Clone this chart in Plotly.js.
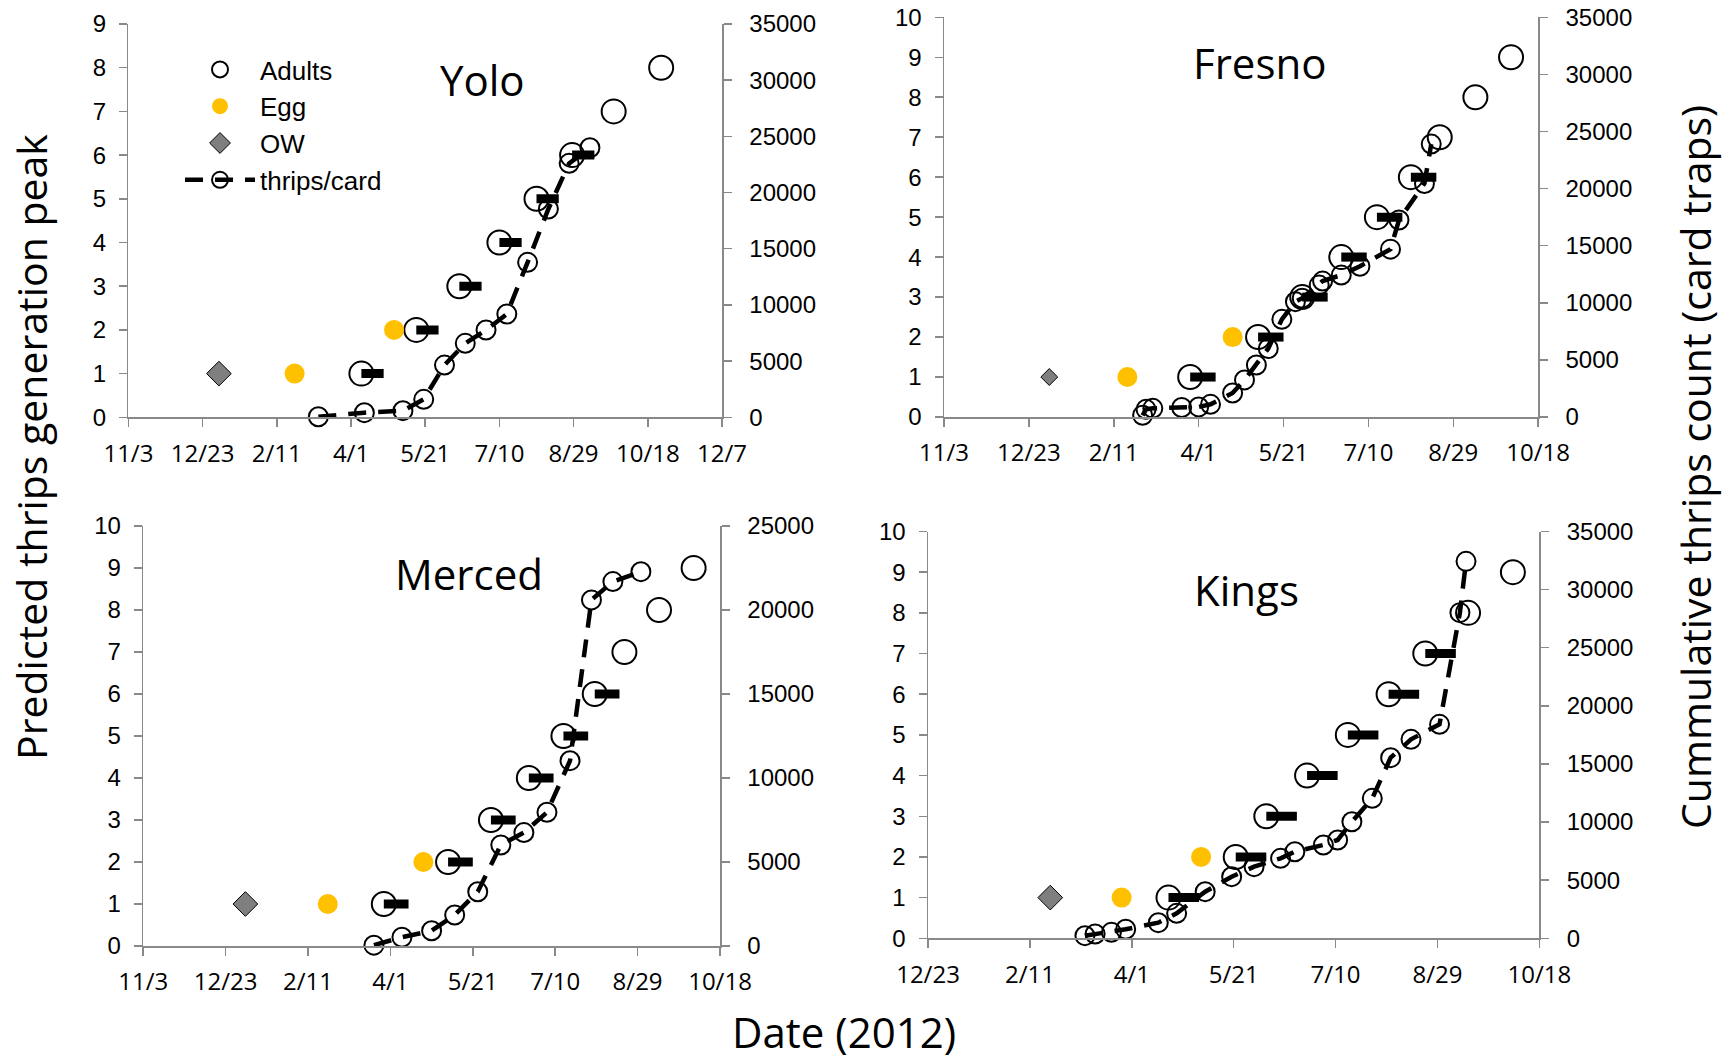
<!DOCTYPE html>
<html><head><meta charset="utf-8">
<script src="https://cdn.plot.ly/plotly-3.0.1.min.js"></script>
<style>html,body{margin:0;padding:0;background:#fff;} #chart{width:1729px;height:1061px;}</style>
</head><body><div id="chart"></div>
<script>
// ---------------- DATA ----------------
const xTickDates = ['2011-11-03','2011-12-23','2012-02-11','2012-04-01','2012-05-21','2012-07-10','2012-08-29','2012-10-18','2012-12-07'];
const xTickLabels = ['11/3','12/23','2/11','4/1','5/21','7/10','8/29','10/18','12/7'];

// Yolo
const yoloAdultDates = ['2012-04-08','2012-05-15','2012-06-13','2012-07-10','2012-08-04','2012-08-28','2012-09-25','2012-10-27'];
const yoloAdultGen = [1,2,3,4,5,6,7,8];
const yoloEggDates = ['2012-02-23','2012-04-30'];
const yoloEggGen = [1,2];
const yoloOWDates = ['2012-01-03'];
const yoloOWGen = [1];
const yoloThripsDates = ['2012-03-10','2012-04-10','2012-05-06','2012-05-20','2012-06-03','2012-06-17','2012-07-01','2012-07-15','2012-07-29','2012-08-12','2012-08-26','2012-09-09'];
const yoloThripsCount = [50,410,590,1600,4650,6580,7770,9190,13790,18540,22600,23990];
const yoloBarCount = 6;

// Fresno
const fresnoAdultDates = ['2012-03-27','2012-05-06','2012-06-01','2012-06-24','2012-07-15','2012-08-04','2012-08-21','2012-09-11','2012-10-02'];
const fresnoAdultGen = [1,2,3,4,5,6,7,8,9];
const fresnoEggDates = ['2012-02-19','2012-04-21'];
const fresnoEggGen = [1,2];
const fresnoOWDates = ['2012-01-04'];
const fresnoOWGen = [1];
const fresnoThripsDates = ['2012-02-28','2012-03-01','2012-03-05','2012-03-22','2012-04-01','2012-04-08','2012-04-21','2012-04-28','2012-05-05','2012-05-12','2012-05-20','2012-05-28','2012-06-01','2012-06-11','2012-06-13','2012-06-24','2012-07-05','2012-07-23','2012-07-28','2012-08-12','2012-08-16'];
const fresnoThripsCount = [150,670,760,830,880,1110,2100,3250,4550,6000,8550,10100,10400,11550,11900,12430,13200,14700,17250,20450,23900];
const fresnoBarCount = 6;

// Merced
const mercedAdultDates = ['2012-03-28','2012-05-06','2012-06-01','2012-06-24','2012-07-15','2012-08-03','2012-08-21','2012-09-11','2012-10-02'];
const mercedAdultGen = [1,2,3,4,5,6,7,8,9];
const mercedEggDates = ['2012-02-23','2012-04-21'];
const mercedEggGen = [1,2];
const mercedOWDates = ['2012-01-04'];
const mercedOWGen = [1];
const mercedThripsDates = ['2012-03-22','2012-04-08','2012-04-26','2012-05-10','2012-05-24','2012-06-07','2012-06-21','2012-07-05','2012-07-19','2012-08-01','2012-08-14','2012-08-31'];
const mercedThripsCount = [50,520,910,1845,3230,6010,6750,7960,11030,20600,21690,22280];
const mercedBarCount = 6;

// Kings
const kingsAdultDates = ['2012-04-19','2012-05-22','2012-06-06','2012-06-26','2012-07-16','2012-08-05','2012-08-23','2012-09-13','2012-10-05'];
const kingsAdultGen = [1,2,3,4,5,6,7,8,9];
const kingsEggDates = ['2012-03-27','2012-05-05'];
const kingsEggGen = [1,2];
const kingsOWDates = ['2012-02-21'];
const kingsOWGen = [1];
const kingsThripsDates = ['2012-03-09','2012-03-14','2012-03-22','2012-03-29','2012-04-14','2012-04-23','2012-05-07','2012-05-20','2012-05-31','2012-06-13','2012-06-20','2012-07-04','2012-07-11','2012-07-18','2012-07-28','2012-08-06','2012-08-16','2012-08-30','2012-09-09','2012-09-12'];
const kingsThripsCount = [225,370,515,775,1345,2150,4010,5300,6160,6880,7450,8030,8460,10030,12040,15540,17120,18410,28020,32430];
const kingsBarCount = 7;

// ---------------- LAYOUT / STYLE ----------------
const W = 1729, H = 1061;
const BAR_DAYS = 15;
const AXIS_GRAY = '#898989';
const px = v => v / W;
const py = v => 1 - v / H;
function addDays(s, n) {
  const d = new Date(s + 'T00:00:00Z');
  return new Date(d.getTime() + n * 86400000).toISOString().slice(0, 10);
}

const panels = [
  {name:'Yolo', ad:yoloAdultDates, ag:yoloAdultGen, ed:yoloEggDates, eg:yoloEggGen, od:yoloOWDates, og:yoloOWGen, td:yoloThripsDates, tc:yoloThripsCount, bars:yoloBarCount,
   xPix:[128.4,722], yPix:[417.3,24], xr:['2011-11-03','2012-12-07'], yMax:9, y2Max:35000, owSize:19, title:[482,79]},
  {name:'Fresno', ad:fresnoAdultDates, ag:fresnoAdultGen, ed:fresnoEggDates, eg:fresnoEggGen, od:fresnoOWDates, og:fresnoOWGen, td:fresnoThripsDates, tc:fresnoThripsCount, bars:fresnoBarCount,
   xPix:[944,1538.2], yPix:[417,17.3], xr:['2011-11-03','2012-10-18'], yMax:10, y2Max:35000, owSize:13, title:[1259,62]},
  {name:'Merced', ad:mercedAdultDates, ag:mercedAdultGen, ed:mercedEggDates, eg:mercedEggGen, od:mercedOWDates, og:mercedOWGen, td:mercedThripsDates, tc:mercedThripsCount, bars:mercedBarCount,
   xPix:[143.2,720], yPix:[946,526], xr:['2011-11-03','2012-10-18'], yMax:10, y2Max:25000, owSize:19, title:[469,573]},
  {name:'Kings', ad:kingsAdultDates, ag:kingsAdultGen, ed:kingsEggDates, eg:kingsEggGen, od:kingsOWDates, og:kingsOWGen, td:kingsThripsDates, tc:kingsThripsCount, bars:kingsBarCount,
   xPix:[928,1539.4], yPix:[938.3,531.5], xr:['2011-12-23','2012-10-18'], yMax:10, y2Max:35000, owSize:19, title:[1246,589]}
];

const yTickFont = {family:'"Liberation Sans", Arial, sans-serif', size:24, color:'#000'};
const xTickFont = {family:'"Open Sans", sans-serif', size:24, color:'#000'};
const axisBase = {showline:true, linecolor:AXIS_GRAY, linewidth:1.5, ticks:'outside', ticklen:8, tickwidth:1.5, tickcolor:AXIS_GRAY,
  showgrid:false, zeroline:false, fixedrange:true};

const traces = [];
const layout = {
  width:W, height:H, margin:{l:0,r:0,t:0,b:0}, paper_bgcolor:'#fff', plot_bgcolor:'rgba(0,0,0,0)',
  showlegend:true,
  legend:{x:px(180), y:py(46), xanchor:'left', yanchor:'top', bgcolor:'rgba(0,0,0,0)', itemwidth:70, tracegroupgap:12,
    font:{family:'"Liberation Sans", Arial, sans-serif', size:26, color:'#000'}, traceorder:'normal'},
  annotations:[], hovermode:false
};

panels.forEach((p, i) => {
  const xa = i === 0 ? 'x' : 'x' + (i + 1);
  const yl = 'y' + (2 * i + 1 === 1 ? '' : 2 * i + 1);
  const yr = 'y' + (2 * i + 2);
  const xKey = 'xaxis' + (i === 0 ? '' : i + 1);
  const ylKey = 'yaxis' + (2 * i + 1 === 1 ? '' : 2 * i + 1);
  const yrKey = 'yaxis' + (2 * i + 2);
  const xDom = [px(p.xPix[0]), px(p.xPix[1])];
  const yDom = [py(p.yPix[0]), py(p.yPix[1])];
  const first = i === 0;

  layout[xKey] = Object.assign({}, axisBase, {type:'date', domain:xDom, range:p.xr, anchor:yl,
    tickmode:'array', tickvals:xTickDates, ticktext:xTickLabels, tickfont:xTickFont, ticklabelstandoff:6});
  layout[ylKey] = Object.assign({}, axisBase, {domain:yDom, range:[0,p.yMax], anchor:xa, side:'left',
    tickmode:'linear', tick0:0, dtick:1, tickfont:yTickFont, ticklabelstandoff:8});
  layout[yrKey] = Object.assign({}, axisBase, {overlaying:yl, side:'right', anchor:xa, range:[0,p.y2Max],
    tickmode:'linear', tick0:0, dtick:5000, tickformat:'d', tickfont:yTickFont, ticklabelstandoff:13});

  traces.push({type:'scatter', mode:'markers', name:'Adults', x:p.ad, y:p.ag, xaxis:xa, yaxis:yl,
    marker:{symbol:'circle-open', size:24, color:'#000', line:{width:2, color:'#000'}}, cliponaxis:false,
    showlegend:first, legendgroup:'adults'});
  traces.push({type:'scatter', mode:'markers', name:'Egg', x:p.ed, y:p.eg, xaxis:xa, yaxis:yl,
    marker:{symbol:'circle', size:20, color:'#FFC000'}, cliponaxis:false, showlegend:first, legendgroup:'egg'});
  traces.push({type:'scatter', mode:'markers', name:'OW', x:p.od, y:p.og, xaxis:xa, yaxis:yl,
    marker:{symbol:'diamond', size:p.owSize, color:'#7F7F7F', line:{width:1, color:'#000'}}, cliponaxis:false,
    showlegend:first, legendgroup:'ow'});
  // thick bars after each adult peak
  const bx = [], by = [];
  for (let k = 0; k < p.bars; k++) {
    bx.push(p.ad[k], addDays(p.ad[k], BAR_DAYS), null);
    by.push(p.ag[k], p.ag[k], null);
  }
  traces.push({type:'scatter', mode:'lines', x:bx, y:by, xaxis:xa, yaxis:yl, line:{color:'#000', width:9},
    showlegend:false, cliponaxis:false});
  traces.push({type:'scatter', mode:'lines+markers', name:'thrips/card', x:p.td, y:p.tc, xaxis:xa, yaxis:yr,
    line:{color:'#000', width:4.5, dash:'18px,12px'},
    marker:{symbol:'circle-open', size:19, color:'#000', line:{width:2, color:'#000'}}, cliponaxis:false,
    showlegend:first, legendgroup:'thrips'});

  layout.annotations.push({text:p.name, xref:'paper', yref:'paper', x:px(p.title[0]), y:py(p.title[1]),
    xanchor:'center', yanchor:'middle', showarrow:false, font:{family:'"Open Sans", sans-serif', size:42, color:'#000'}});
});

layout.annotations.push({text:'Predicted thrips generation peak', xref:'paper', yref:'paper', x:px(31), y:py(447),
  xanchor:'center', yanchor:'middle', textangle:-90, showarrow:false, font:{family:'"Open Sans", sans-serif', size:41, color:'#000'}});
layout.annotations.push({text:'Cummulative thrips count (card traps)', xref:'paper', yref:'paper', x:px(1695), y:py(467),
  xanchor:'center', yanchor:'middle', textangle:-90, showarrow:false, font:{family:'"Open Sans", sans-serif', size:41, color:'#000'}});
layout.annotations.push({text:'Date (2012)', xref:'paper', yref:'paper', x:px(844), y:py(1031),
  xanchor:'center', yanchor:'middle', showarrow:false, font:{family:'"Open Sans", sans-serif', size:42, color:'#000'}});

Plotly.newPlot('chart', traces, layout, {staticPlot:true, displayModeBar:false});
</script></body></html>
